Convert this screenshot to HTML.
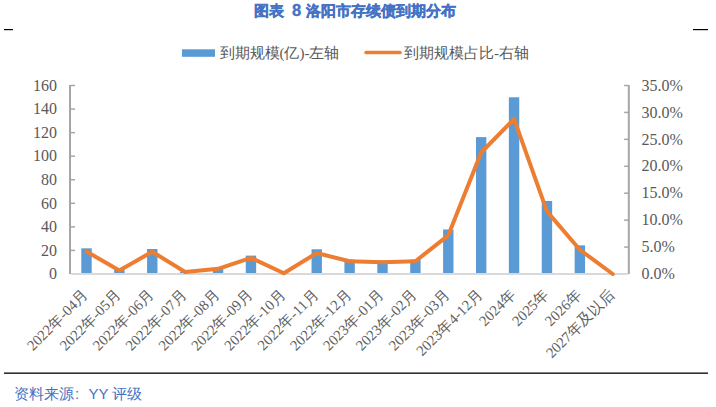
<!DOCTYPE html><html><head><meta charset="utf-8"><style>
html,body{margin:0;padding:0;background:#fff;width:716px;height:407px;overflow:hidden}
svg{display:block}
</style></head><body>
<svg width="716" height="407" viewBox="0 0 716 407">
<text y="16.3" font-family="Liberation Sans, sans-serif" font-size="15" font-weight="bold" fill="#4472C4" stroke="#4472C4" stroke-width="0.35"><tspan x="254">图表</tspan><tspan x="292" font-size="16.5">8</tspan><tspan x="305.5">洛阳市存续债到期分布</tspan></text>
<rect x="4" y="29" width="9" height="1.2" fill="#000"/>
<rect x="693" y="29" width="15" height="1.2" fill="#000"/>
<rect x="182" y="49.3" width="33" height="7.5" fill="#5B9BD5"/>
<text x="219.5" y="57.5" font-family="Liberation Serif, serif" font-size="15" fill="#595959">到期规模(亿)-左轴</text>
<line x1="366" y1="52.6" x2="400" y2="52.6" stroke="#ED7D31" stroke-width="3.5" stroke-linecap="round"/>
<text x="404" y="57.5" font-family="Liberation Serif, serif" font-size="15" fill="#595959">到期规模占比-右轴</text>
<rect x="81.30" y="248.32" width="10.4" height="25.68" fill="#5B9BD5"/>
<rect x="114.18" y="269.88" width="10.4" height="4.12" fill="#5B9BD5"/>
<rect x="147.07" y="249.02" width="10.4" height="24.98" fill="#5B9BD5"/>
<rect x="179.97" y="271.76" width="10.4" height="2.24" fill="#5B9BD5"/>
<rect x="212.86" y="268.11" width="10.4" height="5.89" fill="#5B9BD5"/>
<rect x="245.75" y="255.62" width="10.4" height="18.38" fill="#5B9BD5"/>
<rect x="278.63" y="273.06" width="10.4" height="0.94" fill="#5B9BD5"/>
<rect x="311.53" y="249.26" width="10.4" height="24.74" fill="#5B9BD5"/>
<rect x="344.42" y="259.51" width="10.4" height="14.49" fill="#5B9BD5"/>
<rect x="377.31" y="260.57" width="10.4" height="13.43" fill="#5B9BD5"/>
<rect x="410.20" y="259.51" width="10.4" height="14.49" fill="#5B9BD5"/>
<rect x="443.09" y="229.47" width="10.4" height="44.53" fill="#5B9BD5"/>
<rect x="475.98" y="137.10" width="10.4" height="136.90" fill="#5B9BD5"/>
<rect x="508.86" y="97.28" width="10.4" height="176.72" fill="#5B9BD5"/>
<rect x="541.75" y="200.96" width="10.4" height="73.04" fill="#5B9BD5"/>
<rect x="574.64" y="245.37" width="10.4" height="28.63" fill="#5B9BD5"/>
<rect x="69" y="85.00" width="2" height="189.00" fill="#A6A6A6"/>
<rect x="627.80" y="85.00" width="2" height="189.00" fill="#A6A6A6"/>
<rect x="71" y="273.00" width="556.80" height="2" fill="#D9D9D9"/>
<text x="57" y="279.20" text-anchor="end" font-family="Liberation Serif, serif" font-size="16" fill="#595959">0</text>
<rect x="71" y="249.69" width="4" height="1.5" fill="#A6A6A6"/>
<text x="57" y="255.64" text-anchor="end" font-family="Liberation Serif, serif" font-size="16" fill="#595959">20</text>
<rect x="71" y="226.12" width="4" height="1.5" fill="#A6A6A6"/>
<text x="57" y="232.07" text-anchor="end" font-family="Liberation Serif, serif" font-size="16" fill="#595959">40</text>
<rect x="71" y="202.56" width="4" height="1.5" fill="#A6A6A6"/>
<text x="57" y="208.51" text-anchor="end" font-family="Liberation Serif, serif" font-size="16" fill="#595959">60</text>
<rect x="71" y="179.00" width="4" height="1.5" fill="#A6A6A6"/>
<text x="57" y="184.95" text-anchor="end" font-family="Liberation Serif, serif" font-size="16" fill="#595959">80</text>
<rect x="71" y="155.44" width="4" height="1.5" fill="#A6A6A6"/>
<text x="57" y="161.39" text-anchor="end" font-family="Liberation Serif, serif" font-size="16" fill="#595959">100</text>
<rect x="71" y="131.88" width="4" height="1.5" fill="#A6A6A6"/>
<text x="57" y="137.82" text-anchor="end" font-family="Liberation Serif, serif" font-size="16" fill="#595959">120</text>
<rect x="71" y="108.31" width="4" height="1.5" fill="#A6A6A6"/>
<text x="57" y="114.26" text-anchor="end" font-family="Liberation Serif, serif" font-size="16" fill="#595959">140</text>
<rect x="71" y="84.75" width="4" height="1.5" fill="#A6A6A6"/>
<text x="57" y="90.70" text-anchor="end" font-family="Liberation Serif, serif" font-size="16" fill="#595959">160</text>
<text x="641.5" y="279.20" font-family="Liberation Serif, serif" font-size="16" fill="#595959">0.0%</text>
<rect x="624.10" y="246.32" width="4" height="1.5" fill="#A6A6A6"/>
<text x="641.5" y="252.27" font-family="Liberation Serif, serif" font-size="16" fill="#595959">5.0%</text>
<rect x="624.10" y="219.39" width="4" height="1.5" fill="#A6A6A6"/>
<text x="641.5" y="225.34" font-family="Liberation Serif, serif" font-size="16" fill="#595959">10.0%</text>
<rect x="624.10" y="192.46" width="4" height="1.5" fill="#A6A6A6"/>
<text x="641.5" y="198.41" font-family="Liberation Serif, serif" font-size="16" fill="#595959">15.0%</text>
<rect x="624.10" y="165.54" width="4" height="1.5" fill="#A6A6A6"/>
<text x="641.5" y="171.49" font-family="Liberation Serif, serif" font-size="16" fill="#595959">20.0%</text>
<rect x="624.10" y="138.61" width="4" height="1.5" fill="#A6A6A6"/>
<text x="641.5" y="144.56" font-family="Liberation Serif, serif" font-size="16" fill="#595959">25.0%</text>
<rect x="624.10" y="111.68" width="4" height="1.5" fill="#A6A6A6"/>
<text x="641.5" y="117.63" font-family="Liberation Serif, serif" font-size="16" fill="#595959">30.0%</text>
<rect x="624.10" y="84.75" width="4" height="1.5" fill="#A6A6A6"/>
<text x="641.5" y="90.70" font-family="Liberation Serif, serif" font-size="16" fill="#595959">35.0%</text>
<polyline points="86.50,251.54 119.38,270.39 152.27,251.76 185.17,272.01 218.06,268.78 250.94,257.84 283.83,273.19 316.73,253.05 349.62,261.29 382.50,262.26 415.40,261.29 448.29,235.33 481.18,152.50 514.06,118.95 546.96,211.42 579.85,249.76 612.74,274.00" fill="none" stroke="#ED7D31" stroke-width="4" stroke-linejoin="round" stroke-linecap="round"/>
<text transform="translate(89.00,295.5) rotate(-45)" text-anchor="end" font-family="Liberation Serif, serif" font-size="14.8" fill="#606060">2022年-04月</text>
<text transform="translate(121.88,295.5) rotate(-45)" text-anchor="end" font-family="Liberation Serif, serif" font-size="14.8" fill="#606060">2022年-05月</text>
<text transform="translate(154.77,295.5) rotate(-45)" text-anchor="end" font-family="Liberation Serif, serif" font-size="14.8" fill="#606060">2022年-06月</text>
<text transform="translate(187.67,295.5) rotate(-45)" text-anchor="end" font-family="Liberation Serif, serif" font-size="14.8" fill="#606060">2022年-07月</text>
<text transform="translate(220.56,295.5) rotate(-45)" text-anchor="end" font-family="Liberation Serif, serif" font-size="14.8" fill="#606060">2022年-08月</text>
<text transform="translate(253.44,295.5) rotate(-45)" text-anchor="end" font-family="Liberation Serif, serif" font-size="14.8" fill="#606060">2022年-09月</text>
<text transform="translate(286.33,295.5) rotate(-45)" text-anchor="end" font-family="Liberation Serif, serif" font-size="14.8" fill="#606060">2022年-10月</text>
<text transform="translate(319.23,295.5) rotate(-45)" text-anchor="end" font-family="Liberation Serif, serif" font-size="14.8" fill="#606060">2022年-11月</text>
<text transform="translate(352.12,295.5) rotate(-45)" text-anchor="end" font-family="Liberation Serif, serif" font-size="14.8" fill="#606060">2022年-12月</text>
<text transform="translate(385.00,295.5) rotate(-45)" text-anchor="end" font-family="Liberation Serif, serif" font-size="14.8" fill="#606060">2023年-01月</text>
<text transform="translate(417.90,295.5) rotate(-45)" text-anchor="end" font-family="Liberation Serif, serif" font-size="14.8" fill="#606060">2023年-02月</text>
<text transform="translate(450.79,295.5) rotate(-45)" text-anchor="end" font-family="Liberation Serif, serif" font-size="14.8" fill="#606060">2023年-03月</text>
<text transform="translate(483.68,295.5) rotate(-45)" text-anchor="end" font-family="Liberation Serif, serif" font-size="14.8" fill="#606060">2023年4-12月</text>
<text transform="translate(516.56,295.5) rotate(-45)" text-anchor="end" font-family="Liberation Serif, serif" font-size="14.8" fill="#606060">2024年</text>
<text transform="translate(549.46,295.5) rotate(-45)" text-anchor="end" font-family="Liberation Serif, serif" font-size="14.8" fill="#606060">2025年</text>
<text transform="translate(582.35,295.5) rotate(-45)" text-anchor="end" font-family="Liberation Serif, serif" font-size="14.8" fill="#606060">2026年</text>
<text transform="translate(615.24,295.5) rotate(-45)" text-anchor="end" font-family="Liberation Serif, serif" font-size="14.8" fill="#606060">2027年及以后</text>
<rect x="4" y="372.5" width="704" height="1.3" fill="#000"/>
<text y="399" font-family="Liberation Sans, sans-serif" font-size="15" fill="#4472C4"><tspan x="14">资料来源</tspan><tspan x="75">:</tspan><tspan x="88.5">YY 评级</tspan></text>
</svg></body></html>
